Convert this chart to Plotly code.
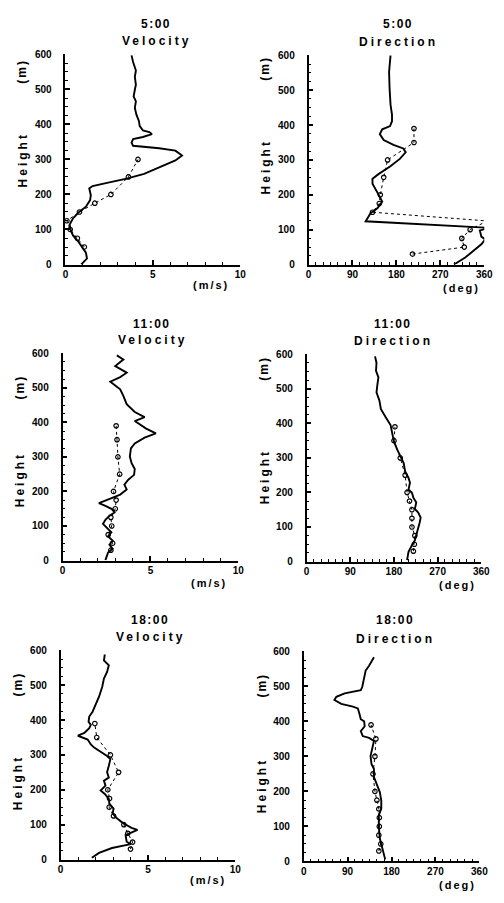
import plotly.graph_objects as go

W, H = 504, 903

# ---- 5:00 ----
h_vel_05 = [0, 17, 34, 48, 67, 83, 98, 114, 132, 151, 165, 184, 198, 217, 224, 233, 245, 259, 278, 297,
            311, 325, 332, 336, 339, 348, 358, 364, 372, 378, 383, 395, 410, 428, 447, 466, 480, 499,
            513, 536, 554, 578, 597]
vel_05 = [0.9, 1.23, 1.17, 0.99, 0.71, 0.43, 0.30, 0.24, 0.43, 0.80, 1.17, 1.41, 1.45, 1.36, 1.55, 2.38,
          3.50, 4.50, 5.45, 6.29, 6.67, 6.29, 5.36, 4.25, 3.87, 3.78, 3.87, 4.43, 4.95, 4.80, 4.43, 4.25,
          4.20, 4.06, 3.97, 4.03, 3.90, 3.97, 4.03, 3.97, 4.03, 3.87, 3.78]
h_svel_05 = [50, 75, 100, 125, 150, 175, 200, 250, 300]
svel_05 = [1.08, 0.68, 0.27, 0.08, 0.80, 1.68, 2.6, 3.6, 4.15]

h_dir_05 = [0, 20, 43, 58, 72, 80, 98, 105, 124, 147, 161, 180, 199, 215, 232, 246, 260, 281, 303, 322,
            333, 343, 357, 374, 388, 397, 411, 430, 458, 506, 553, 600]
dir_05 = [298, 321, 341, 354, 362, 354, 351, 372, 117, 127, 141, 151, 144, 138, 131, 131, 144, 167, 187,
          199, 194, 174, 154, 146, 151, 167, 171, 171, 168, 166, 165, 168]
h_sdir_05 = [30, 50, 75, 100, 125, 150, 175, 200, 250, 300, 350, 390]
sdir_05 = [213, 319, 314, 331, 366, 131, 145, 147, 154, 162, 216, 216]

# ---- 11:00 ----
h_vel_11 = [1, 23, 34, 46, 58, 70, 82, 96, 106, 118, 130, 139, 149, 158, 166, 179, 191, 206, 220, 234,
            248, 265, 282, 301, 325, 339, 356, 368, 382, 404, 415, 430, 453, 477, 496, 518, 531, 544,
            563, 582, 594]
vel_11 = [2.44, 2.59, 2.85, 2.67, 2.85, 2.59, 2.78, 2.48, 2.30, 2.44, 2.67, 2.96, 2.81, 2.44, 2.07, 2.72,
          3.28, 3.65, 3.52, 3.74, 4.07, 4.11, 3.93, 3.83, 3.89, 4.11, 4.67, 5.31, 4.76, 4.11, 4.67, 4.11,
          3.65, 3.46, 3.28, 2.72, 3.28, 3.65, 3.00, 3.46, 3.09]
h_svel_11 = [30, 50, 75, 100, 125, 150, 175, 200, 250, 300, 350, 390]
svel_11 = [2.75, 2.85, 2.6, 2.8, 2.75, 3.0, 3.05, 2.9, 3.25, 3.15, 3.1, 3.05]

h_dir_11 = [4, 28, 47, 61, 77, 94, 113, 127, 142, 152, 171, 185, 199, 209, 228, 242, 261, 285, 304, 323,
            347, 371, 395, 418, 442, 466, 490, 514, 533, 552, 575, 594]
dir_11 = [207, 210, 217, 223, 226, 230, 233, 235, 230, 223, 226, 220, 217, 210, 213, 210, 203, 200, 193,
          187, 180, 177, 173, 163, 153, 150, 144, 146, 148, 143, 144, 141]
h_sdir_11 = [30, 50, 75, 100, 125, 150, 175, 200, 250, 300, 350, 390]
sdir_11 = [220, 222, 223, 217, 217, 217, 212, 207, 203, 193, 180, 182]

# ---- 18:00 ----
h_vel_18 = [5, 19, 33, 42, 44, 51, 70, 85, 91, 104, 118, 132, 146, 160, 174, 188, 198, 212, 226, 235,
            250, 269, 288, 297, 311, 321, 330, 344, 355, 363, 377, 386, 395, 410, 424, 443, 467, 495,
            519, 538, 557, 571, 588]
vel_18 = [1.79, 2.20, 2.94, 3.69, 4.02, 3.78, 3.72, 4.40, 4.06, 3.59, 3.22, 2.98, 3.03, 2.79, 2.76, 2.53,
          2.29, 2.57, 2.48, 2.76, 2.66, 2.76, 2.85, 2.66, 2.20, 1.92, 1.73, 1.55, 0.99, 1.36, 1.64, 1.73,
          1.60, 1.64, 1.83, 2.01, 2.20, 2.38, 2.48, 2.66, 2.76, 2.48, 2.53]
h_svel_18 = [30, 50, 75, 100, 125, 150, 175, 200, 250, 300, 350, 390]
svel_18 = [4.0, 4.12, 3.85, 3.62, 3.03, 2.78, 2.8, 2.7, 3.32, 2.85, 2.07, 1.96]

h_dir_18 = [6, 38, 66, 99, 132, 151, 174, 198, 222, 241, 264, 278, 301, 330, 344, 353, 358, 372, 386,
            400, 406, 423, 437, 442, 450, 461, 470, 480, 489, 498, 531, 545, 559, 583]
dir_18 = [167, 161, 156, 154, 154, 159, 159, 156, 149, 144, 144, 139, 137, 141, 144, 134, 121, 117, 125,
          124, 117, 114, 111, 101, 77, 63, 67, 84, 117, 120, 124, 127, 134, 144]
h_sdir_18 = [30, 50, 75, 100, 125, 150, 175, 200, 250, 300, 350, 390]
sdir_18 = [154, 158, 154, 155, 155, 154, 150, 146, 142, 146, 148, 138]

times = ['5:00', '11:00', '18:00']
vel_ticks = [0, 5, 10]
dir_ticks = [0, 90, 180, 270, 360]
height_ticks = [0, 100, 200, 300, 400, 500, 600]

# panel boxes in pixels: left, right, top, bottom
panels = [
    dict(box=(64, 243, 49, 262), kind='vel', t=0, line=(vel_05, h_vel_05), dots=(svel_05, h_svel_05),
         title_x=157, title_y=(18, 35), ht=(20, 156, 66), unit=(213, 283)),
    dict(box=(313, 493, 50, 262), kind='dir', t=0, line=(dir_05, h_dir_05), dots=(sdir_05, h_sdir_05),
         title_x=405, title_y=(18, 36), ht=(269, 163, 63), unit=(470, 286)),
    dict(box=(61, 241, 352, 562), kind='vel', t=1, line=(vel_11, h_vel_11), dots=(svel_11, h_svel_11),
         title_x=153, title_y=(322, 339), ht=(17, 480, 386), unit=(211, 585)),
    dict(box=(311, 490, 353, 563), kind='dir', t=1, line=(dir_11, h_dir_11), dots=(sdir_11, h_sdir_11),
         title_x=400, title_y=(322, 340), ht=(268, 477, 367), unit=(466, 587)),
    dict(box=(59, 238, 653, 865), kind='vel', t=2, line=(vel_18, h_vel_18), dots=(svel_18, h_svel_18),
         title_x=151, title_y=(622, 640), ht=(15, 787, 687), unit=(210, 886)),
    dict(box=(308, 488, 654, 867), kind='dir', t=2, line=(dir_18, h_dir_18), dots=(sdir_18, h_sdir_18),
         title_x=402, title_y=(622, 642), ht=(265, 790, 688), unit=(466, 891)),
]

FONT = 'Liberation Sans'
tickfont = dict(family=FONT, size=10, color='black', weight='bold')


def spaced(text, gap=2.5):
    return '<span style="letter-spacing:%gpx">%s</span>' % (gap, text)


fig = go.Figure()
annotations = []
layout = dict(width=W, height=H, margin=dict(l=0, r=0, t=0, b=0),
              paper_bgcolor='white', plot_bgcolor='white', showlegend=False)

for i, p in enumerate(panels, start=1):
    l, r, t, b = p['box']
    sfx = '' if i == 1 else str(i)
    xs, hs = p['line']
    fig.add_trace(go.Scatter(x=xs, y=hs, mode='lines', xaxis='x' + sfx, yaxis='y' + sfx,
                             line=dict(color='black', width=1.9), hoverinfo='skip'))
    xd, hd = p['dots']
    fig.add_trace(go.Scatter(x=xd, y=hd, mode='lines+markers', xaxis='x' + sfx, yaxis='y' + sfx,
                             line=dict(color='black', width=1, dash='dot'),
                             marker=dict(symbol='circle-open', size=4.5, color='black', line=dict(width=1.2)),
                             cliponaxis=False, hoverinfo='skip'))

    if p['kind'] == 'vel':
        xr, xt, minor = [0, 10], vel_ticks, 1
        ttl, unit = 'Velocity', '(m/s)'
    else:
        xr, xt, minor = [0, 360], dir_ticks, 15
        ttl, unit = 'Direction', '(deg)'

    layout['xaxis' + sfx] = dict(
        domain=[l / W, r / W], range=xr, tickvals=xt, anchor='y' + sfx,
        ticks='inside', ticklen=5, tickwidth=1.5, tickcolor='black',
        showline=True, linecolor='black', linewidth=1.6, showgrid=False, zeroline=False,
        minor=dict(dtick=minor, ticks='inside', ticklen=2.5, tickwidth=1, tickcolor='black'),
        tickfont=tickfont, fixedrange=True)
    layout['yaxis' + sfx] = dict(
        domain=[1 - b / H, 1 - t / H], range=[0, 600], tickvals=height_ticks, anchor='x' + sfx,
        ticks='inside', ticklen=5, tickwidth=1.5, tickcolor='black',
        showline=True, linecolor='black', linewidth=1.6, showgrid=False, zeroline=False,
        minor=dict(dtick=25, ticks='inside', ticklen=2.5, tickwidth=1, tickcolor='black'),
        tickfont=tickfont, ticklabelstandoff=10, fixedrange=True)

    tfont = dict(family=FONT, size=12, color='black', weight='bold')
    ufont = dict(family=FONT, size=11, color='black', weight='bold')
    annotations.append(dict(text=spaced(times[p['t']], 1.5), x=p['title_x'] / W, y=1 - p['title_y'][0] / H,
                            xref='paper', yref='paper', showarrow=False, font=tfont,
                            xanchor='center', yanchor='middle'))
    annotations.append(dict(text=spaced(ttl, 3), x=p['title_x'] / W, y=1 - p['title_y'][1] / H,
                            xref='paper', yref='paper', showarrow=False, font=tfont,
                            xanchor='center', yanchor='middle'))
    hx, hy, my = p['ht']
    annotations.append(dict(text=spaced('Height', 3), x=hx / W, y=1 - hy / H, textangle=-90,
                            xref='paper', yref='paper', showarrow=False, font=tfont,
                            xanchor='center', yanchor='middle'))
    annotations.append(dict(text=spaced('(m)', 2), x=hx / W, y=1 - my / H, textangle=-90,
                            xref='paper', yref='paper', showarrow=False, font=tfont,
                            xanchor='center', yanchor='middle'))
    ux, uy = p['unit']
    annotations.append(dict(text=spaced(unit, 2), x=ux / W, y=1 - uy / H,
                            xref='paper', yref='paper', showarrow=False, font=ufont,
                            xanchor='center', yanchor='middle'))

layout['annotations'] = annotations
fig.update_layout(**layout)

fig.write_html("out.html", config={'displayModeBar': False},
               post_script="document.body.style.margin='0px';")
